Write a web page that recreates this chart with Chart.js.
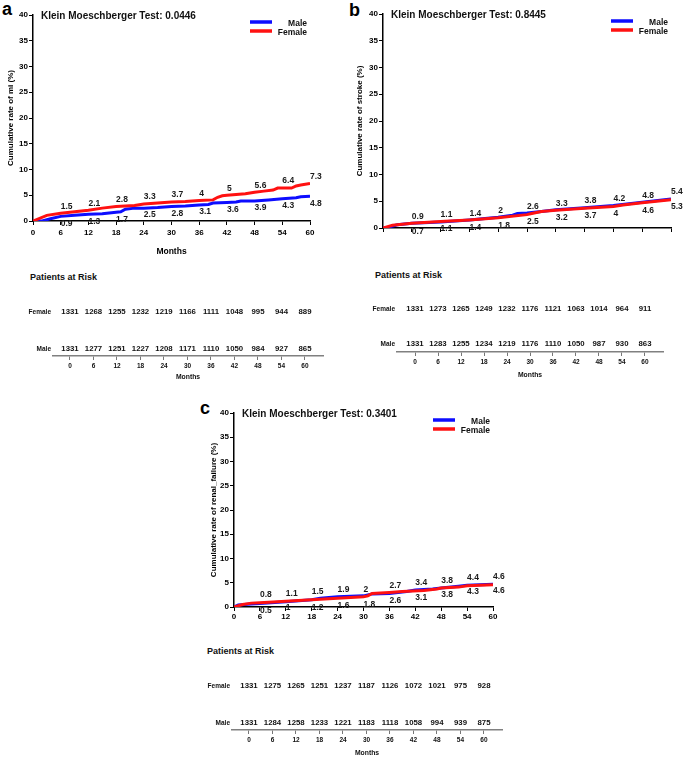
<!DOCTYPE html>
<html>
<head>
<meta charset="utf-8">
<title>Cumulative rates by sex</title>
<script src="https://cdn.jsdelivr.net/npm/chart.js@4.4.1/dist/chart.umd.min.js"></script>
<style>
  body { margin: 0; background: #fff; font-family: "Liberation Sans", Arial, sans-serif; }
  #wrap { position: relative; width: 685px; height: 757px; overflow: hidden; }
  canvas { position: absolute; }
  .tag { position: absolute; font-weight: bold; font-size: 18px; line-height: 18px; color: #000; }
  .risk { position: absolute; font-weight: bold; font-size: 9px; line-height: 10px; color: #111; }
</style>
</head>
<body>
<div id="wrap">
  <div class="tag" style="left:2px;top:0px">a</div>
  <div class="tag" style="left:349px;top:1px">b</div>
  <div class="tag" style="left:200px;top:399px">c</div>
  <div class="risk" style="left:30px;top:272px">Patients at Risk</div>
  <div class="risk" style="left:375px;top:270px">Patients at Risk</div>
  <div class="risk" style="left:207px;top:646px">Patients at Risk</div>
  <canvas id="miCurve" width="345" height="262" style="left:0;top:0"></canvas>
  <canvas id="miRisk" width="345" height="95" style="left:0;top:290px"></canvas>
  <canvas id="strokeCurve" width="340" height="236" style="left:345px;top:0"></canvas>
  <canvas id="strokeRisk" width="340" height="95" style="left:345px;top:287px"></canvas>
  <canvas id="renalCurve" width="310" height="225" style="left:200px;top:400px"></canvas>
  <canvas id="renalRisk" width="330" height="93" style="left:190px;top:664px"></canvas>
</div>
<script>
const BLUE = '#0d0dff';
const RED = '#ff1111';
Chart.defaults.font.family = '"Liberation Sans", Arial, sans-serif';
Chart.defaults.color = '#000';
Chart.defaults.animation = false;

// months where values are printed on the curves / at-risk counts are given
const markMonths = [6, 12, 18, 24, 30, 36, 42, 48, 54, 60];
const riskMonths = [0, 6, 12, 18, 24, 30, 36, 42, 48, 54, 60];
const riskRows = ['Male', 'Female'];

// a: myocardial infarction
const miMaleT = [0, 2, 4, 6, 9, 12, 15, 18, 19, 20, 22, 24, 27, 30, 33, 36, 38, 39, 42, 44, 45, 48, 51, 54, 57, 58, 60];
const miMaleY = [0, 0, 0.5, 0.9, 1.1, 1.3, 1.4, 1.7, 1.8, 2.3, 2.5, 2.5, 2.6, 2.8, 2.9, 3.1, 3.2, 3.5, 3.6, 3.7, 3.9, 3.9, 4.1, 4.3, 4.5, 4.7, 4.8];
const miFemaleT = [0, 3, 6, 9, 12, 15, 18, 22, 24, 27, 30, 33, 36, 39, 40, 41, 42, 46, 48, 50, 52, 53, 56, 57, 58, 60];
const miFemaleY = [0, 1.1, 1.5, 1.8, 2.1, 2.5, 2.8, 3.0, 3.3, 3.5, 3.7, 3.8, 4.0, 4.1, 4.6, 4.9, 5.0, 5.3, 5.6, 5.8, 6.0, 6.4, 6.4, 6.8, 7.0, 7.3];
const miMaleMarks = [0.9, 1.3, 1.7, 2.5, 2.8, 3.1, 3.6, 3.9, 4.3, 4.8];
const miFemaleMarks = [1.5, 2.1, 2.8, 3.3, 3.7, 4, 5, 5.6, 6.4, 7.3];
const miRiskFemale = [1331, 1268, 1255, 1232, 1219, 1166, 1111, 1048, 995, 944, 889];
const miRiskMale = [1331, 1277, 1251, 1227, 1208, 1171, 1110, 1050, 984, 927, 865];

// b: stroke
const strokeMaleT = [0, 1, 3, 6, 12, 18, 24, 27, 28, 30, 33, 36, 42, 48, 54, 60];
const strokeMaleY = [0, 0.1, 0.6, 0.9, 1.1, 1.5, 2.0, 2.4, 2.7, 2.8, 3.1, 3.4, 3.8, 4.2, 4.8, 5.4];
const strokeFemaleT = [0, 2, 4, 6, 12, 18, 24, 30, 31, 33, 36, 42, 48, 50, 54, 60];
const strokeFemaleY = [0, 0.5, 0.7, 0.9, 1.2, 1.5, 1.9, 2.5, 2.7, 3.1, 3.3, 3.7, 4.0, 4.3, 4.7, 5.3];
const strokeMaleMarks = [0.9, 1.1, 1.4, 2, 2.6, 3.3, 3.8, 4.2, 4.8, 5.4];
const strokeFemaleMarks = [0.7, 1.1, 1.4, 1.8, 2.5, 3.2, 3.7, 4, 4.6, 5.3];
const strokeRiskFemale = [1331, 1273, 1265, 1249, 1232, 1176, 1121, 1063, 1014, 964, 911];
const strokeRiskMale = [1331, 1283, 1255, 1234, 1219, 1176, 1110, 1050, 987, 930, 863];

// c: renal failure
const renalMaleT = [0, 1, 4, 6, 12, 18, 20, 24, 30, 31, 32, 36, 40, 42, 46, 48, 52, 54, 60];
const renalMaleY = [0, 0.4, 0.6, 0.7, 1.1, 1.5, 1.8, 2.1, 2.3, 2.5, 2.7, 2.8, 3.2, 3.5, 3.7, 3.9, 4.3, 4.5, 4.7];
const renalFemaleT = [0, 2, 4, 6, 12, 18, 24, 30, 31, 32, 36, 39, 44, 47, 48, 52, 54, 60];
const renalFemaleY = [0, 0.5, 0.8, 0.9, 1.2, 1.5, 1.8, 2.1, 2.3, 2.8, 3.0, 3.2, 3.4, 3.7, 3.9, 4.1, 4.4, 4.6];
const renalMaleMarks = [0.8, 1.1, 1.5, 1.9, 2, 2.7, 3.4, 3.8, 4.4, 4.6];
const renalFemaleMarks = [0.5, 1, 1.2, 1.6, 1.8, 2.6, 3.1, 3.8, 4.3, 4.6];
const renalRiskFemale = [1331, 1275, 1265, 1251, 1237, 1187, 1126, 1072, 1021, 975, 928];
const renalRiskMale = [1331, 1284, 1258, 1233, 1221, 1183, 1118, 1058, 994, 939, 875];

function pairs(t, v) {
    return t.map((m, i) => ({ x: m, y: v[i] }));
}

// test title (top left) and legend (top right) inside the plot area
function framePlugin(title) {
    return {
        id: 'frame',
        afterDraw(chart) {
            const { ctx, chartArea } = chart;
            ctx.save();
            ctx.fillStyle = '#111';
            ctx.textBaseline = 'middle';
            ctx.font = 'bold 10px "Liberation Sans", Arial, sans-serif';
            ctx.textAlign = 'left';
            ctx.fillText(title, chartArea.left + 8, chartArea.top + 1.5);
            ctx.font = 'bold 8.5px "Liberation Sans", Arial, sans-serif';
            ctx.textAlign = 'right';
            chart.data.datasets.forEach((ds, i) => {
                const y = chartArea.top + 7 + i * 9;
                ctx.strokeStyle = ds.borderColor;
                ctx.lineWidth = 3.5;
                ctx.beginPath();
                ctx.moveTo(chartArea.right - 60, y);
                ctx.lineTo(chartArea.right - 38, y);
                ctx.stroke();
                ctx.fillText(ds.label, chartArea.right - 3, y + 1.5);
            });
            ctx.restore();
        }
    };
}

// printed values next to the curves every 6 months
function marksPlugin(sets) {
    return {
        id: 'marks',
        afterDatasetsDraw(chart) {
            const { ctx, scales: { x, y } } = chart;
            ctx.save();
            ctx.font = 'bold 8.5px "Liberation Sans", Arial, sans-serif';
            ctx.fillStyle = '#1a1a1a';
            ctx.textAlign = 'left';
            ctx.textBaseline = 'middle';
            sets.forEach(set => {
                set.values.forEach((v, i) => {
                    ctx.fillText(String(v), x.getPixelForValue(markMonths[i]), y.getPixelForValue(v) + set.shift);
                });
            });
            ctx.restore();
        }
    };
}

// at-risk counts written at each point of the table rows
const riskPlugin = {
    id: 'riskText',
    afterDatasetsDraw(chart) {
        const { ctx } = chart;
        ctx.save();
        ctx.font = 'bold 7.8px "Liberation Sans", Arial, sans-serif';
        ctx.fillStyle = '#111';
        ctx.textAlign = 'center';
        ctx.textBaseline = 'middle';
        chart.data.datasets.forEach((ds, i) => {
            chart.getDatasetMeta(i).data.forEach((el, j) => {
                ctx.fillText(String(ds.data[j].n), el.x, el.y);
            });
        });
        ctx.restore();
    }
};

function curveChart(id, cfg) {
    return new Chart(document.getElementById(id), {
        type: 'line',
        data: {
            datasets: [
                { label: 'Male', data: pairs(cfg.maleT, cfg.maleY), borderColor: BLUE, order: 2 },
                { label: 'Female', data: pairs(cfg.femaleT, cfg.femaleY), borderColor: RED, order: 1 }
            ]
        },
        options: {
            responsive: false,
            elements: { point: { radius: 0 }, line: { borderWidth: 3, tension: 0 } },
            layout: { padding: cfg.pad },
            plugins: { legend: { display: false }, tooltip: { enabled: false } },
            scales: {
                x: {
                    type: 'linear', min: 0, max: 60,
                    ticks: {
                        stepSize: 6, autoSkip: false, maxRotation: 0, padding: cfg.xPad,
                        color: cfg.xLabels ? '#000' : 'rgba(0,0,0,0)',
                        font: { size: 8, weight: 'bold' }
                    },
                    grid: { drawOnChartArea: false, tickLength: 4, color: '#000' },
                    border: { color: '#000', width: 1.5 },
                    title: {
                        display: cfg.xTitle, text: 'Months',
                        font: { size: 8.5, weight: 'bold' }, padding: { top: 0, bottom: 5 }
                    },
                    afterFit: s => { s.height = cfg.xH; }
                },
                y: {
                    min: 0, max: 40,
                    ticks: { stepSize: 5, padding: 1, font: { size: 8, weight: 'bold' } },
                    grid: { drawOnChartArea: false, tickLength: 4, color: '#000' },
                    border: { color: '#000', width: 1.5 },
                    title: {
                        display: true, text: cfg.yTitle,
                        font: { size: 8, weight: 'bold' }, padding: { top: cfg.yTitlePad, bottom: 0 }
                    },
                    afterFit: s => { s.width = cfg.yW; }
                }
            }
        },
        plugins: [framePlugin(cfg.title), marksPlugin(cfg.marks)]
    });
}

function riskChart(id, female, male, cfg) {
    return new Chart(document.getElementById(id), {
        type: 'scatter',
        data: {
            datasets: [
                { label: 'Female', data: riskMonths.map((m, i) => ({ x: m, y: riskRows.indexOf('Female'), n: female[i] })) },
                { label: 'Male', data: riskMonths.map((m, i) => ({ x: m, y: riskRows.indexOf('Male'), n: male[i] })) }
            ]
        },
        options: {
            responsive: false,
            elements: { point: { radius: 0, hoverRadius: 0 } },
            layout: { padding: { top: cfg.top, right: cfg.right, left: 0, bottom: 0 } },
            plugins: { legend: { display: false }, tooltip: { enabled: false } },
            scales: {
                x: {
                    type: 'linear', min: cfg.min, max: cfg.max,
                    afterBuildTicks: s => { s.ticks = riskMonths.map(v => ({ value: v })); },
                    ticks: {
                        autoSkip: false, maxRotation: 0, padding: 2.5, color: '#111',
                        font: { size: 6.5, weight: 'bold' }, callback: v => v
                    },
                    grid: { drawOnChartArea: false, tickLength: 4, color: '#777' },
                    border: { color: '#808080', width: 1.5 },
                    title: {
                        display: true, text: 'Months', color: '#111',
                        font: { size: 6.8, weight: 'bold' }, padding: { top: 0, bottom: cfg.titlePad }
                    },
                    afterFit: s => { s.height = cfg.xH; }
                },
                y: {
                    type: 'linear', min: cfg.yMin, max: 1,
                    afterBuildTicks: s => { s.ticks = riskRows.map((r, i) => ({ value: i })); },
                    ticks: { padding: 2, color: '#111', font: { size: 6.5, weight: 'bold' }, callback: v => riskRows[v] },
                    grid: { display: false, drawTicks: false },
                    border: { display: false },
                    afterFit: s => { s.width = cfg.yW; }
                }
            }
        },
        plugins: [riskPlugin]
    });
}

curveChart('miCurve', {
    maleT: miMaleT, maleY: miMaleY, femaleT: miFemaleT, femaleY: miFemaleY,
    title: 'Klein Moeschberger Test: 0.0446',
    yTitle: 'Cumulative rate of mi (%)',
    marks: [{ values: miFemaleMarks, shift: -7 }, { values: miMaleMarks, shift: 7 }],
    pad: { left: 0, top: 15, right: 35, bottom: 0 },
    yW: 33, yTitlePad: 5.5, xH: 41, xPad: 2.5, xLabels: true, xTitle: true
});
curveChart('strokeCurve', {
    maleT: strokeMaleT, maleY: strokeMaleY, femaleT: strokeFemaleT, femaleY: strokeFemaleY,
    title: 'Klein Moeschberger Test: 0.8445',
    yTitle: 'Cumulative rate of stroke (%)',
    marks: [{ values: strokeMaleMarks, shift: -7 }, { values: strokeFemaleMarks, shift: 7 }],
    pad: { left: 0, top: 14, right: 14, bottom: 0 },
    yW: 38, yTitlePad: 9.5, xH: 8, xPad: 2.5, xLabels: false, xTitle: false
});
curveChart('renalCurve', {
    maleT: renalMaleT, maleY: renalMaleY, femaleT: renalFemaleT, femaleY: renalFemaleY,
    title: 'Klein Moeschberger Test: 0.3401',
    yTitle: 'Cumulative rate of renal_failure (%)',
    marks: [{ values: renalMaleMarks, shift: -8 }, { values: renalFemaleMarks, shift: 6 }],
    pad: { left: 0, top: 13, right: 17, bottom: 0 },
    yW: 34, yTitlePad: 8.5, xH: 18, xPad: 0.5, xLabels: true, xTitle: false
});

riskChart('miRisk', miRiskFemale, miRiskMale,
    { top: 22, right: 22, yW: 53, xH: 29, min: -4.34, max: 64.6, yMin: -0.19, titlePad: 4 });
riskChart('strokeRisk', strokeRiskFemale, strokeRiskMale,
    { top: 22, right: 22, yW: 52, xH: 30, min: -4.7, max: 64.7, yMin: -0.23, titlePad: 3 });
riskChart('renalRisk', renalRiskFemale, renalRiskMale,
    { top: 22, right: 18, yW: 42, xH: 27, min: -4.34, max: 64.6, yMin: -0.19, titlePad: 0 });
</script>
</body>
</html>
